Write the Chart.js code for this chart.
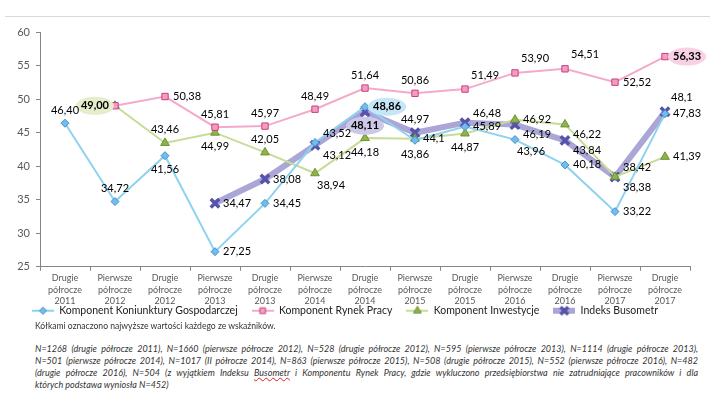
<!DOCTYPE html>
<html>
<head>
<meta charset="utf-8">
<script src="https://cdn.jsdelivr.net/npm/chart.js@4.4.1/dist/chart.umd.min.js"></script>
<style>
  body { margin: 0; background: #fff; font-family: Lato, "Liberation Sans", sans-serif; }
  #wrap { position: relative; width: 710px; height: 397px; overflow: hidden; }
  #topline { position: absolute; left: 5px; right: 0; top: 16px; height: 1px; background: #d9d9d9; }
  #chartBox { position: absolute; left: 0; top: 0; width: 710px; height: 343px; }
  .note { position: absolute; left: 35px; font-size: 8.6px; color: #333; white-space: nowrap; }
  .it { font-style: italic; font-size: 9px; width: 663px; text-align: justify; text-align-last: justify; }
  .spell { text-decoration: underline wavy #e02020; }
</style>
</head>
<body>
<div id="wrap">
  <div id="topline"></div>
  <div id="chartBox"><canvas id="myChart" width="710" height="343"></canvas></div>
  <div class="note" style="top:321px">Kółkami oznaczono najwyższe wartości każdego ze wskaźników.</div>
  <div class="note it" style="top:343px">N=1268 (drugie półrocze 2011), N=1660 (pierwsze półrocze 2012), N=528 (drugie półrocze 2012), N=595 (pierwsze półrocze 2013), N=1114 (drugie półrocze 2013),</div>
  <div class="note it" style="top:355px">N=501 (pierwsze półrocze 2014), N=1017 (II półrocze 2014), N=863 (pierwsze półrocze 2015), N=508 (drugie półrocze 2015), N=552 (pierwsze półrocze 2016), N=482</div>
  <div class="note it" style="top:367px">(drugie półrocze 2016), N=504 (z wyjątkiem Indeksu <span class="spell">Busometr</span> i Komponentu Rynek Pracy, gdzie wykluczono przedsiębiorstwa nie zatrudniające pracowników i dla</div>
  <div class="note" style="top:379px;font-style:italic;font-size:9px">których podstawa wyniosła N=452)</div>
</div>
<script>
// data
const halves = ['Drugie', 'Pierwsze', 'Drugie', 'Pierwsze', 'Drugie', 'Pierwsze', 'Drugie',
                'Pierwsze', 'Drugie', 'Pierwsze', 'Drugie', 'Pierwsze', 'Drugie'];
const years = ['2011', '2012', '2012', '2013', '2013', '2014', '2014', '2015', '2015', '2016', '2016', '2017', '2017'];

const koniunktura = ['46.40', '34.72', '41.56', '27.25', '34.45', '43.52', '48.86', '43.86', '45.89', '43.96', '40.18', '33.22', '47.83'];
const rynekPracy = [null, '49.00', '50.38', '45.81', '45.97', '48.49', '51.64', '50.86', '51.49', '53.90', '54.51', '52.52', '56.33'];
const inwestycje = [null, '49.00', '43.46', '44.99', '42.05', '38.94', '44.18', '44.1', '44.87', '46.92', '46.22', '38.42', '41.39'];
const busometr = [null, null, null, '34.47', '38.08', '43.12', '48.11', '44.97', '46.48', '46.19', '43.84', '38.38', '48.1'];

const seriesNames = ['Komponent Koniunktury Gospodarczej', 'Komponent Rynek Pracy', 'Komponent Inwestycje', 'Indeks Busometr'];

// where each value label sits relative to its point
const labelPlaces = [
    ['a', 'a', 'b', 'r', 'r', 'ra', 'r', 'b', 'r', 'bR', 'r', 'r', 'r'],
    [null, null, 'r', 'a', 'a', 'a', 'a', 'a', 'aR', 'aR', 'aR', 'r', 'r'],
    [null, 'l', 'a', 'b', 'a', 'bR', 'b', 'r', 'b', 'r', 'rb', 'ra', 'r'],
    [null, null, null, 'r', 'r', 'rb', 'b', 'a', 'ra', 'rb', 'rb', 'rb', 'aR']
];
const places = {
    a: ['center', 0, -13],
    b: ['center', 0, 14],
    r: ['left', 8, 0],
    l: ['right', -6, 0],
    ra: ['left', 8, -9],
    rb: ['left', 8, 10],
    aR: ['left', 6, -14],
    bR: ['left', 2, 12]
};
const circleColors = ['#c4e6f6', '#f8d2e4', '#e4edcc', '#cbc9e7'];

const categories = halves.map((h, i) => [h, 'półrocze', years[i]]);

function legendIcon(lineColor, lineWidth, style, fill, stroke, radius, bw) {
    var c = document.createElement('canvas');
    c.width = 22;
    c.height = 12;
    var g = c.getContext('2d');
    g.strokeStyle = lineColor;
    g.lineWidth = lineWidth;
    g.beginPath();
    g.moveTo(0, 6);
    g.lineTo(22, 6);
    g.stroke();
    g.fillStyle = fill;
    g.strokeStyle = stroke;
    g.lineWidth = bw;
    Chart.helpers.drawPoint(g, {pointStyle: style, radius: radius, borderWidth: bw, rotation: 0}, 11, 6);
    return c;
}

function topIndex(arr) {
    var best = -1;
    arr.forEach((v, i) => {
        if (v != null && (best < 0 || Number(v) > Number(arr[best]))) best = i;
    });
    return best;
}

const valueLabels = {
    id: 'valueLabels',
    afterDatasetsDraw(chart) {
        var ctx = chart.ctx;
        ctx.save();
        ctx.textBaseline = 'middle';
        // circles behind the highest values first
        chart.data.datasets.forEach((ds, di) => {
            var meta = chart.getDatasetMeta(di);
            var i = topIndex(ds.data);
            var key = labelPlaces[di][i];
            if (!key) return;
            var p = places[key];
            var pt = meta.data[i];
            ctx.font = 'bold 11px Lato';
            var text = ds.data[i].replace('.', ',');
            var w = ctx.measureText(text).width;
            var cx = pt.x + p[1] + (p[0] === 'left' ? w / 2 : p[0] === 'right' ? -w / 2 : 0);
            var cy = pt.y + p[2];
            ctx.fillStyle = circleColors[di];
            ctx.beginPath();
            ctx.ellipse(cx, cy, w / 2 + 5, 9, 0, 0, Math.PI * 2);
            ctx.fill();
        });
        chart.data.datasets.forEach((ds, di) => {
            var meta = chart.getDatasetMeta(di);
            var top = topIndex(ds.data);
            meta.data.forEach((pt, i) => {
                var key = labelPlaces[di][i];
                if (ds.data[i] == null || !key) return;
                var p = places[key];
                ctx.font = (i === top ? 'bold ' : '') + '11px Lato';
                ctx.fillStyle = '#000';
                ctx.textAlign = p[0];
                ctx.fillText(ds.data[i].replace('.', ','), pt.x + p[1], pt.y + p[2]);
            });
        });
        ctx.restore();
    }
};

// pull the legend up closer to the axis labels, like the Excel original
const legendNudge = {
    id: 'legendNudge',
    afterLayout(chart) {
        chart.legend.top -= 17;
        chart.legend.bottom -= 17;
    }
};

Chart.defaults.font.family = 'Lato';

const styles = [
    {line: '#8fd2f0', width: 2, point: 'rectRot', fill: '#74bdea', stroke: '#3f8fcf', r: 4, bw: 1},
    {line: '#f4aacb', width: 2, point: 'rect', fill: '#f59cc2', stroke: '#c8407e', r: 4.5, bw: 1},
    {line: '#c6dc97', width: 2, point: 'triangle', fill: '#8db34d', stroke: '#6d9232', r: 5, bw: 1},
    {line: '#aaa7d7', width: 6, point: 'crossRot', fill: '#5653a8', stroke: '#5653a8', r: 6, bw: 3.5}
];
const values = [koniunktura, rynekPracy, inwestycje, busometr];

const ctx = document.getElementById('myChart').getContext('2d');
new Chart(ctx, {
    type: 'line',
    data: {
        labels: categories,
        datasets: values.map((v, i) => ({
            label: seriesNames[i],
            data: v,
            borderColor: styles[i].line,
            borderWidth: styles[i].width,
            pointStyle: styles[i].point,
            pointBackgroundColor: styles[i].fill,
            pointBorderColor: styles[i].stroke,
            pointBorderWidth: styles[i].bw,
            pointRadius: styles[i].r,
            tension: 0,
            spanGaps: false
        }))
    },
    options: {
        responsive: false,
        animation: false,
        layout: {padding: {top: 32, right: 20, left: 0, bottom: 0}},
        plugins: {
            tooltip: {enabled: false},
            legend: {
                position: 'bottom',
                labels: {
                    usePointStyle: true,
                    pointStyleWidth: 22,
                    padding: 14,
                    color: '#222',
                    font: {size: 10.5},
                    generateLabels: (chart) => chart.data.datasets.map((ds, i) => ({
                        text: ds.label,
                        datasetIndex: i,
                        fontColor: '#222',
                        pointStyle: legendIcon(styles[i].line, styles[i].width, styles[i].point,
                            styles[i].fill, styles[i].stroke, styles[i].r * 0.9, styles[i].bw)
                    }))
                }
            }
        },
        scales: {
            x: {
                offset: true,
                grid: {offset: true, drawOnChartArea: false, drawTicks: true, tickLength: 4, color: '#868686'},
                border: {display: true, color: '#868686'},
                ticks: {color: '#595959', font: {size: 9, lineHeight: 1.25}, maxRotation: 0, autoSkip: false, padding: 2}
            },
            y: {
                min: 25,
                max: 60,
                grid: {drawOnChartArea: false, drawTicks: true, tickLength: 4, color: '#868686'},
                border: {display: true, color: '#868686'},
                ticks: {stepSize: 5, color: '#595959', font: {size: 11}, padding: 6},
                afterFit: (scale) => { scale.width = 40; }
            }
        }
    },
    plugins: [valueLabels, legendNudge]
});
</script>
</body>
</html>
